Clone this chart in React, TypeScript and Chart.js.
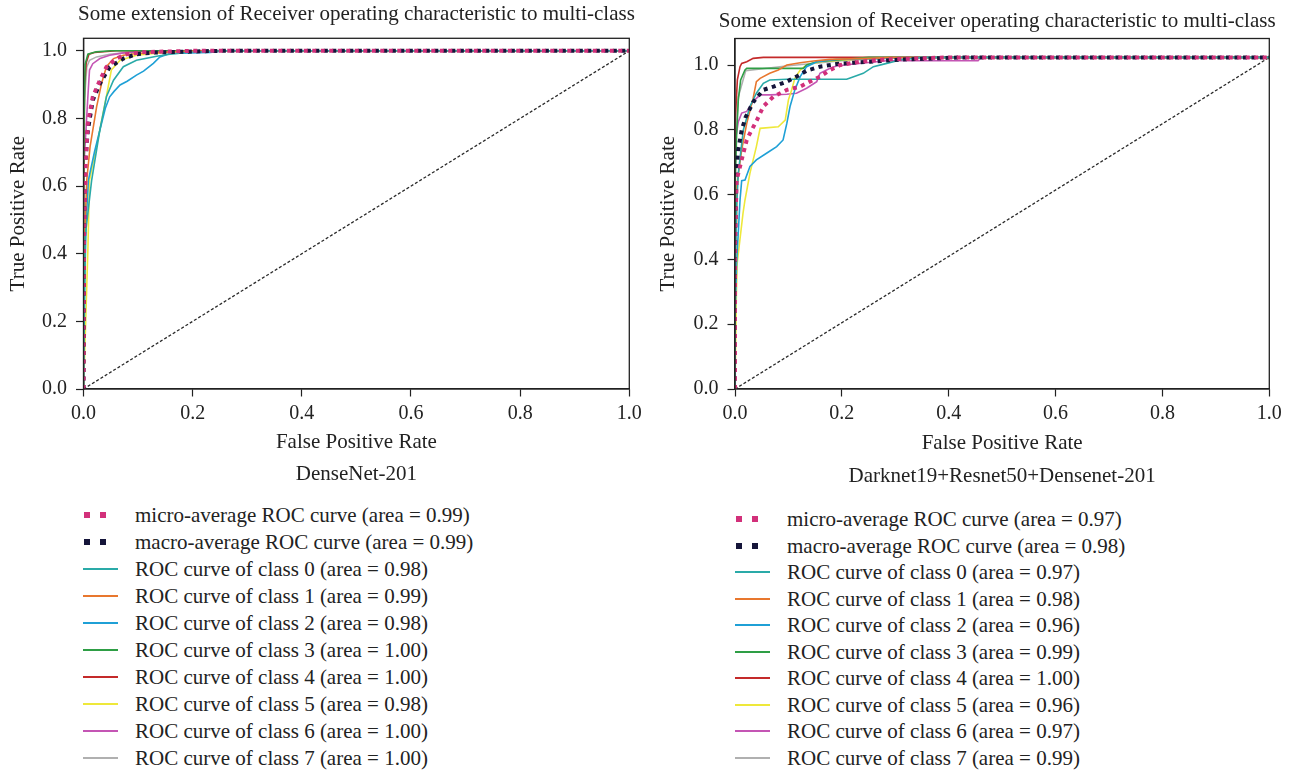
import React, { useEffect, useRef } from "react";
import { Chart, registerables } from "chart.js";

Chart.register(...registerables);

type P = [number, number];

const FONT = '"Liberation Serif", "Times New Roman", serif';
const TEXT = "#222222";

// ---------- shared tick labels / names ----------
const xTickValues = [0, 0.2, 0.4, 0.6, 0.8, 1.0];
const yTickValues = [0, 0.2, 0.4, 0.6, 0.8, 1.0];
const classIds = [0, 1, 2, 3, 4, 5, 6, 7];
const classColors = [
  "#2aaaa8",
  "#e8772e",
  "#1fa0d6",
  "#2e9e45",
  "#c42a2a",
  "#eee83a",
  "#c455b4",
  "#b0b0b0",
];
const microColor = "#d2307a";
const macroColor = "#15153a";
const diagonal: P[] = [
  [0, 0],
  [1, 1],
];

// ---------- DenseNet-201 ----------
const dnTitle = "Some extension of Receiver operating characteristic to multi-class";
const dnSubtitle = "DenseNet-201";
const dnMicroArea = "0.99";
const dnMacroArea = "0.99";
const dnClassAreas = ["0.98", "0.99", "0.98", "1.00", "1.00", "0.98", "1.00", "1.00"];
const dnMicro: P[] = [[0,0],[0.001,0.45],[0.004,0.668],[0.008,0.785],[0.017,0.864],[0.03,0.913],[0.042,0.952],[0.06,0.977],[0.079,0.99],[0.11,0.996],[0.2,1],[1,1]];
const dnMacro: P[] = [[0,0],[0.001,0.45],[0.002,0.648],[0.008,0.765],[0.017,0.854],[0.03,0.903],[0.048,0.952],[0.073,0.977],[0.097,0.99],[0.128,0.995],[0.25,1],[1,1]];
const dnClass0: P[] = [[0,0],[0.003,0.45],[0.015,0.618],[0.03,0.766],[0.036,0.815],[0.042,0.864],[0.055,0.913],[0.073,0.953],[0.097,0.972],[0.134,0.984],[0.158,0.99],[0.189,0.995],[0.25,1],[1,1]];
const dnClass1: P[] = [[0,0],[0.002,0.45],[0.006,0.618],[0.012,0.716],[0.024,0.834],[0.033,0.903],[0.042,0.953],[0.055,0.977],[0.073,0.987],[0.097,0.992],[0.16,0.997],[0.22,1],[1,1]];
const dnClass2: P[] = [[0,0],[0.002,0.3],[0.005,0.5],[0.009,0.618],[0.02,0.7],[0.033,0.785],[0.04,0.83],[0.048,0.864],[0.056,0.88],[0.067,0.899],[0.08,0.91],[0.097,0.928],[0.11,0.94],[0.128,0.963],[0.14,0.982],[0.158,0.992],[0.232,0.995],[0.26,1],[1,1]];
const dnClass3: P[] = [[0,0],[0,0.5],[0.001,0.8],[0.003,0.96],[0.008,0.99],[0.023,0.997],[0.05,1],[1,1]];
const dnClass4: P[] = [[0,0],[0,0.6],[0.002,0.9],[0.005,0.965],[0.01,0.99],[0.02,0.995],[0.06,1],[1,1]];
const dnClass5: P[] = [[0,0],[0.002,0.094],[0.008,0.41],[0.011,0.618],[0.03,0.767],[0.042,0.866],[0.051,0.943],[0.067,0.972],[0.097,0.987],[0.13,0.992],[0.2,1],[1,1]];
const dnClass6: P[] = [[0,0],[0,0.5],[0.001,0.668],[0.008,0.864],[0.011,0.943],[0.017,0.962],[0.03,0.977],[0.048,0.987],[0.073,0.994],[0.12,1],[1,1]];
const dnClass7: P[] = [[0,0],[0,0.6],[0.002,0.86],[0.006,0.952],[0.011,0.972],[0.024,0.982],[0.048,0.99],[0.073,0.994],[0.12,1],[1,1]];
const dnClasses = [dnClass0, dnClass1, dnClass2, dnClass3, dnClass4, dnClass5, dnClass6, dnClass7];

// ---------- Darknet19+Resnet50+Densenet-201 ----------
const hyTitle = "Some extension of Receiver operating characteristic to multi-class";
const hySubtitle = "Darknet19+Resnet50+Densenet-201";
const hyMicroArea = "0.97";
const hyMacroArea = "0.98";
const hyClassAreas = ["0.97", "0.98", "0.96", "0.99", "1.00", "0.96", "0.97", "0.99"];
const hyMicro: P[] = [[0,0],[0,0.45],[0.0031,0.63],[0.0094,0.671],[0.0156,0.711],[0.022,0.751],[0.028,0.771],[0.041,0.811],[0.053,0.852],[0.072,0.882],[0.097,0.902],[0.122,0.912],[0.14,0.927],[0.159,0.942],[0.178,0.962],[0.197,0.977],[0.234,0.987],[0.284,0.994],[0.346,0.997],[0.4,1],[1,1]];
const hyMacro: P[] = [[0,0],[0,0.4],[0.001,0.55],[0.002,0.651],[0.006,0.721],[0.0125,0.781],[0.02,0.82],[0.034,0.865],[0.053,0.902],[0.072,0.912],[0.097,0.927],[0.115,0.942],[0.134,0.96],[0.159,0.972],[0.19,0.98],[0.222,0.984],[0.253,0.987],[0.315,0.994],[0.377,0.997],[0.42,1],[1,1]];
const hyClass0: P[] = [[0,0],[0,0.35],[0.003,0.55],[0.0062,0.651],[0.0156,0.781],[0.028,0.852],[0.04,0.892],[0.053,0.922],[0.065,0.932],[0.097,0.934],[0.209,0.934],[0.222,0.942],[0.24,0.952],[0.259,0.972],[0.284,0.982],[0.309,0.992],[0.35,1],[1,1]];
const hyClass1: P[] = [[0,0],[0,0.3],[0.002,0.5],[0.0031,0.61],[0.0125,0.721],[0.022,0.801],[0.034,0.877],[0.04,0.927],[0.047,0.937],[0.065,0.952],[0.081,0.962],[0.097,0.977],[0.122,0.984],[0.147,0.989],[0.178,0.994],[0.25,0.997],[0.3,1],[1,1]];
const hyClass2: P[] = [[0,0],[0,0.2],[0.003,0.378],[0.0094,0.57],[0.0125,0.628],[0.0187,0.63],[0.028,0.671],[0.04,0.691],[0.059,0.711],[0.078,0.731],[0.09,0.751],[0.097,0.801],[0.103,0.852],[0.112,0.902],[0.122,0.942],[0.134,0.972],[0.153,0.987],[0.19,0.994],[0.284,0.997],[0.3,1],[1,1]];
const hyClass3: P[] = [[0,0],[0,0.6],[0.0031,0.771],[0.0062,0.872],[0.0106,0.932],[0.0187,0.962],[0.022,0.967],[0.128,0.967],[0.134,0.977],[0.153,0.987],[0.25,1],[1,1]];
const hyClass4: P[] = [[0,0],[0,0.8],[0.0019,0.852],[0.0044,0.932],[0.0094,0.972],[0.0125,0.982],[0.022,0.987],[0.034,0.997],[0.053,1],[1,1]];
const hyClass5: P[] = [[0,0],[0.0025,0.275],[0.004,0.378],[0.015,0.53],[0.0187,0.57],[0.028,0.651],[0.04,0.731],[0.047,0.786],[0.081,0.791],[0.094,0.811],[0.1,0.872],[0.106,0.902],[0.112,0.937],[0.122,0.962],[0.134,0.977],[0.159,0.987],[0.221,0.994],[0.3,1],[1,1]];
const hyClass6: P[] = [[0,0],[0,0.6],[0.001,0.72],[0.0019,0.761],[0.0062,0.806],[0.0125,0.832],[0.022,0.837],[0.034,0.867],[0.047,0.887],[0.065,0.887],[0.097,0.889],[0.115,0.892],[0.134,0.907],[0.153,0.927],[0.159,0.952],[0.178,0.967],[0.19,0.974],[0.222,0.98],[0.284,0.99],[0.455,0.99],[0.46,1],[1,1]];
const hyClass7: P[] = [[0,0],[0,0.7],[0.006,0.88],[0.02,0.96],[0.1,0.975],[0.2,0.99],[0.3,1],[1,1]];
const hyClasses = [hyClass0, hyClass1, hyClass2, hyClass3, hyClass4, hyClass5, hyClass6, hyClass7];

// ---------- building ----------
type Series = {
  label: string;
  points: P[];
  color: string;
  width: number;
  dash: number[];
  kind: "dots" | "line" | "none";
};

function buildSeries(micro: P[], macro: P[], classes: P[][], microArea: string, macroArea: string, areas: string[]): Series[] {
  const s: Series[] = [
    { label: `micro-average ROC curve (area = ${microArea})`, points: micro, color: microColor, width: 4, dash: [4, 4.5], kind: "dots" },
    { label: `macro-average ROC curve (area = ${macroArea})`, points: macro, color: macroColor, width: 4, dash: [4, 4.5], kind: "dots" },
  ];
  classIds.forEach((i) => {
    s.push({
      label: `ROC curve of class ${i} (area = ${areas[i]})`,
      points: classes[i],
      color: classColors[i],
      width: 1.6,
      dash: [],
      kind: "line",
    });
  });
  s.push({ label: "", points: diagonal, color: "#2a2a2a", width: 1.3, dash: [3, 2], kind: "none" });
  return s;
}

const dnSeries = buildSeries(dnMicro, dnMacro, dnClasses, dnMicroArea, dnMacroArea, dnClassAreas);
const hySeries = buildSeries(hyMicro, hyMacro, hyClasses, hyMicroArea, hyMacroArea, hyClassAreas);

type RocProps = {
  left: number;
  yAxisWidth: number;
  padRight: number;
  areaTop: number;
  yMax: number;
  yTickScale: number;
  yTitlePad: number;
  xTitlePad: number;
  title: string;
  titleGap: number;
  titleDx: number;
  subtitle: string;
  subBaseline: number;
  series: Series[];
};

const CW = 648;
const CH = 500;
const AREA_BOTTOM = 389;

function RocChart(props: RocProps) {
  const ref = useRef<HTMLCanvasElement>(null);
  useEffect(() => {
    const canvas = ref.current;
    if (!canvas) return;
    const tickFont = { family: FONT, size: 20 };
    const titleFont = { family: FONT, size: 21 };
    const decor = {
      id: "decor",
      afterDraw(chart: any) {
        const { ctx, chartArea } = chart;
        const { left, top, right, bottom } = chartArea;
        ctx.save();
        ctx.strokeStyle = "#222";
        ctx.lineWidth = 1.3;
        ctx.strokeRect(left, top, right - left, bottom - top);
        ctx.fillStyle = TEXT;
        ctx.font = `21px ${FONT}`;
        ctx.textAlign = "center";
        ctx.textBaseline = "alphabetic";
        ctx.fillText(props.title, (left + right) / 2 + props.titleDx, top - props.titleGap);
        ctx.fillText(props.subtitle, (left + right) / 2, props.subBaseline);
        ctx.restore();
      },
    };
    const chart = new Chart(canvas, {
      type: "line",
      data: {
        datasets: props.series.map((s) => ({
          label: s.label,
          data: s.points.map(([x, y]) => ({ x, y })),
          borderColor: s.color,
          backgroundColor: s.color,
          borderWidth: s.width,
          borderDash: s.dash,
          borderCapStyle: "butt",
          pointRadius: 0,
          pointHoverRadius: 0,
          fill: false,
          tension: 0,
        })),
      },
      options: {
        animation: false,
        responsive: false,
        maintainAspectRatio: false,
        events: [],
        layout: { padding: { top: props.areaTop, right: props.padRight, left: 0, bottom: 0 } },
        plugins: {
          legend: { display: false },
          tooltip: { enabled: false },
          title: { display: false },
        },
        scales: {
          x: {
            type: "linear",
            min: 0,
            max: 1,
            afterBuildTicks: (s: any) => {
              s.ticks = xTickValues.map((v) => ({ value: v }));
            },
            afterFit: (s: any) => {
              s.height = CH - AREA_BOTTOM;
            },
            ticks: {
              callback: (v: any) => Number(v).toFixed(1),
              font: tickFont,
              color: TEXT,
              padding: 5,
              maxRotation: 0,
              autoSkip: false,
            },
            grid: {
              display: true,
              drawOnChartArea: false,
              drawTicks: true,
              tickLength: 7.5,
              tickColor: "#222",
              tickWidth: 1.2,
            },
            border: { display: true, color: "#222", width: 1.3 },
            title: {
              display: true,
              text: "False Positive Rate",
              font: titleFont,
              color: TEXT,
              padding: { top: 0, bottom: props.xTitlePad },
            },
          },
          y: {
            type: "linear",
            min: 0,
            max: props.yMax,
            afterBuildTicks: (s: any) => {
              s.ticks = yTickValues.map((v) => ({ value: v * props.yTickScale }));
            },
            afterFit: (s: any) => {
              s.width = props.yAxisWidth;
            },
            ticks: {
              callback: (v: any) => (Number(v) / props.yTickScale).toFixed(1),
              font: tickFont,
              color: TEXT,
              padding: 9,
              autoSkip: false,
            },
            grid: {
              display: true,
              drawOnChartArea: false,
              drawTicks: true,
              tickLength: 7.5,
              tickColor: "#222",
              tickWidth: 1.2,
            },
            border: { display: true, color: "#222", width: 1.3 },
            title: {
              display: true,
              text: "True Positive Rate",
              font: titleFont,
              color: TEXT,
              padding: { top: props.yTitlePad, bottom: 0 },
            },
          },
        },
      } as any,
      plugins: [decor],
    } as any);
    return () => chart.destroy();
  }, []);
  return (
    <canvas
      ref={ref}
      width={CW}
      height={CH}
      style={{ position: "absolute", left: props.left, top: 0, width: CW, height: CH }}
    />
  );
}

type LegendProps = { left: number; top: number; rowH: number; series: Series[] };

function Legend({ left, top, rowH, series }: LegendProps) {
  const items = series.filter((s) => s.kind !== "none");
  const h = 28;
  return (
    <div style={{ position: "absolute", left, top: 0 }}>
      {items.map((s, i) => (
        <div
          key={i}
          style={{
            position: "absolute",
            left: 0,
            top: Math.round(top + i * rowH),
            height: h,
            width: 440,
            display: "flex",
            alignItems: "center",
            whiteSpace: "nowrap",
          }}
        >
          <div style={{ position: "relative", width: 52, height: h, flex: "none" }}>
            {s.kind === "dots" ? (
              <>
                <div style={{ position: "absolute", left: 1, top: h / 2 - 3, width: 6, height: 6, background: s.color }} />
                <div style={{ position: "absolute", left: 17, top: h / 2 - 3, width: 6, height: 6, background: s.color }} />
              </>
            ) : (
              <div style={{ position: "absolute", left: 0, top: h / 2 - 1, width: 35, height: 2, background: s.color }} />
            )}
          </div>
          <span style={{ fontFamily: FONT, fontSize: 21, color: TEXT, lineHeight: `${h}px` }}>{s.label}</span>
        </div>
      ))}
    </div>
  );
}

export default function App() {
  return (
    <div
      style={{
        position: "absolute",
        left: 0,
        top: 0,
        width: 1296,
        height: 773,
        background: "#ffffff",
        overflow: "hidden",
      }}
    >
      <RocChart
        left={0}
        yAxisWidth={83.5}
        padRight={CW - 629.3}
        areaTop={38.3}
        yMax={1.037}
        yTickScale={1}
        yTitlePad={6}
        xTitlePad={45}
        title={dnTitle}
        titleGap={18.3}
        titleDx={0}
        subtitle={dnSubtitle}
        subBaseline={480}
        series={dnSeries}
      />
      <RocChart
        left={648}
        yAxisWidth={87}
        padRight={CW - 621.3}
        areaTop={38.5}
        yMax={1.057}
        yTickScale={0.977}
        yTitlePad={8}
        xTitlePad={44}
        title={hyTitle}
        titleGap={11.8}
        titleDx={-5}
        subtitle={hySubtitle}
        subBaseline={482}
        series={hySeries}
      />
      <Legend left={83} top={501} rowH={27} series={dnSeries} />
      <Legend left={735} top={505} rowH={26.55} series={hySeries} />
    </div>
  );
}
